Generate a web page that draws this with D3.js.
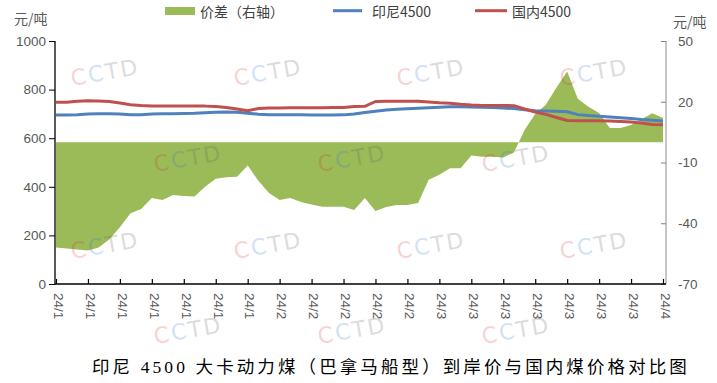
<!DOCTYPE html>
<html><head><meta charset="utf-8">
<script src="https://cdn.jsdelivr.net/npm/d3@7"></script>
<style>
html,body{margin:0;padding:0;background:#fff;}
svg{display:block;}
</style></head>
<body>
<svg id="chart" width="717" height="383"></svg>
<script>
// ---- data ----
const dates = [
 "2024-01-03","2024-01-04","2024-01-05","2024-01-08","2024-01-09","2024-01-10","2024-01-11","2024-01-12",
 "2024-01-15","2024-01-16","2024-01-17","2024-01-18","2024-01-19","2024-01-22","2024-01-23","2024-01-24",
 "2024-01-25","2024-01-26","2024-01-29","2024-01-30","2024-01-31",
 "2024-02-01","2024-02-02","2024-02-05","2024-02-06","2024-02-07","2024-02-08","2024-02-19","2024-02-20",
 "2024-02-21","2024-02-22","2024-02-23","2024-02-26","2024-02-27","2024-02-28","2024-02-29",
 "2024-03-01","2024-03-04","2024-03-05","2024-03-06","2024-03-07","2024-03-08","2024-03-11","2024-03-12",
 "2024-03-13","2024-03-14","2024-03-15","2024-03-18","2024-03-19","2024-03-20","2024-03-21","2024-03-22",
 "2024-03-25","2024-03-26","2024-03-27","2024-03-28","2024-03-29",
 "2024-04-01"
];
const tickLabels = ["24/1","24/1","24/1","24/1","24/1","24/1","24/1","24/2","24/2","24/2",
                    "24/2","24/2","24/3","24/3","24/3","24/3","24/3","24/3","24/3","24/4"];
const indonesia4500 = [695,695,697,700,701,701,700,697,697,700,701,701,702,703,705,707,708,707,703,699,
                       697,696,696,696,695,695,695,696,700,706,711,716,719,721,723,725,727,729,729,728,
                       727,726,724,722,717,713,712,711,709,697,693,690,687,684,681,677,674,671];
const domestic4500  = [748,748,752,754,753,751,745,738,735,733,733,733,733,733,732,730,726,720,713,722,
                       724,724,725,725,725,725,726,726,730,731,751,752,752,752,752,749,746,744,740,737,
                       735,735,735,734,720,708,698,685,673,672,672,672,671,669,667,662,656,655];
const spread        = [-52,-52.5,-53,-53.5,-52,-48,-42,-35,-33,-27.5,-28.5,-26,-26.5,-26.8,-22,-18,-17.3,-17,-11.5,-19,
                       -25,-28.5,-27.5,-29.5,-30.8,-31.8,-31.8,-31.8,-33.5,-27.5,-34,-32,-31,-31,-30,-18.5,-16,-12.9,-12.9,-6.5,
                       -7.1,-7.1,-7.5,-5,6,14,18.5,27,35,21.5,17.5,14.5,7,7,8.5,11.5,14.3,12];
const leftTicks = [0,200,400,600,800,1000];
const rightTicks = [-70,-40,-10,20,50];
const seriesNames = ["价差（右轴）","印尼4500","国内4500"];
const titleText = "印尼 4500 大卡动力煤（巴拿马船型）到岸价与国内煤价格对比图";

// ---- layout ----
const svg = d3.select("#chart");
const X0 = 56, X1 = 663, AXR = 666, YT = 41, YB = 284;
const green = "#9BBB59", blue = "#4F81BD", red = "#C0504D";
const numFont = "'Liberation Sans', Arial, sans-serif";
const cjkFont = "'Noto Sans CJK SC', sans-serif";

const x = d3.scaleLinear().domain([0, dates.length - 1]).range([X0, X1]);
const yL = d3.scaleLinear().domain([0, 1000]).range([YB, YT]);
const yR = d3.scaleLinear().domain([-70, 50]).range([YB, YT]);

// area
const area = d3.area().x((d, i) => x(i)).y0(yR(0)).y1(d => yR(d));
svg.append("path").datum(spread).attr("d", area).attr("fill", green);

// lines
const line = d3.line().x((d, i) => x(i)).y(d => yL(d));
svg.append("path").datum(indonesia4500).attr("d", line).attr("fill", "none")
  .attr("stroke", blue).attr("stroke-width", 3).attr("stroke-linejoin", "round");
svg.append("path").datum(domestic4500).attr("d", line).attr("fill", "none")
  .attr("stroke", red).attr("stroke-width", 3).attr("stroke-linejoin", "round");

// left axis
const gL = svg.append("g").attr("transform", `translate(${X0 - 1},0)`)
  .call(d3.axisLeft(yL).tickValues(leftTicks).tickSize(6).tickSizeOuter(0).tickPadding(3)
    .tickFormat(d => String(d)));
gL.select(".domain").remove();
gL.selectAll(".tick line").attr("stroke", "#000");
gL.selectAll("text").attr("font-family", numFont).attr("font-size", 13.5).attr("fill", "#595959");
svg.append("line").attr("x1", X0 - 1).attr("x2", X0 - 1).attr("y1", YT).attr("y2", YB + 0.5)
  .attr("stroke", "#000").attr("stroke-width", 1.3);

// right axis
const gR = svg.append("g").attr("transform", `translate(${AXR},0)`)
  .call(d3.axisRight(yR).tickValues(rightTicks).tickSize(-5).tickSizeOuter(0).tickPadding(12)
    .tickFormat(d => String(d)));
gR.select(".domain").remove();
gR.selectAll(".tick line").attr("stroke", "#7f7f7f");
gR.selectAll("text").attr("font-family", numFont).attr("font-size", 13.5).attr("fill", "#595959");
svg.append("line").attr("x1", AXR).attr("x2", AXR).attr("y1", YT).attr("y2", YB)
  .attr("stroke", "#8c8c8c").attr("stroke-width", 1);

// x axis
const tickIdx = d3.range(0, dates.length, 3);
const gX = svg.append("g").attr("transform", `translate(0,${YB})`)
  .call(d3.axisBottom(x).tickValues(tickIdx).tickSize(-5).tickSizeOuter(0)
    .tickFormat((d, i) => tickLabels[i]));
gX.select(".domain").remove();
gX.selectAll(".tick line").attr("stroke", "#000").attr("stroke-width", 1.2);
gX.selectAll("text")
  .attr("font-family", numFont).attr("font-size", 13.5).attr("fill", "#595959")
  .attr("transform", "rotate(90)").attr("text-anchor", "start")
  .attr("x", 9).attr("y", -2).attr("dy", "0.35em");
svg.append("line").attr("x1", X0 - 1).attr("x2", AXR).attr("y1", YB).attr("y2", YB)
  .attr("stroke", "#000").attr("stroke-width", 1.4);

// unit labels
svg.append("text").attr("x", 14).attr("y", 18).attr("dominant-baseline", "central")
  .attr("font-family", cjkFont).attr("font-size", 14).attr("fill", "#595959").text("元/吨");
svg.append("text").attr("x", 673).attr("y", 21).attr("dominant-baseline", "central")
  .attr("font-family", cjkFont).attr("font-size", 14).attr("fill", "#595959").text("元/吨");

// legend
const lg = svg.append("g").attr("font-family", cjkFont).attr("font-size", 14).attr("fill", "#404040");
lg.append("rect").attr("x", 165).attr("y", 7).attr("width", 30).attr("height", 8).attr("fill", green);
lg.append("text").attr("x", 200).attr("y", 11).attr("dominant-baseline", "central").text(seriesNames[0]);
lg.append("line").attr("x1", 333).attr("x2", 362).attr("y1", 10.7).attr("y2", 10.7)
  .attr("stroke", blue).attr("stroke-width", 3);
lg.append("text").attr("x", 372).attr("y", 11).attr("dominant-baseline", "central").text(seriesNames[1]);
lg.append("line").attr("x1", 475).attr("x2", 507).attr("y1", 10.7).attr("y2", 10.7)
  .attr("stroke", red).attr("stroke-width", 3);
lg.append("text").attr("x", 512).attr("y", 11).attr("dominant-baseline", "central").text(seriesNames[2]);

// watermark
const wm = svg.append("g").attr("pointer-events", "none");
const wmRows = [{y: 72, xs: [105, 268, 431, 594]}, {y: 158, xs: [188, 352, 516]},
                {y: 245, xs: [105, 268, 431, 594]}, {y: 330, xs: [188, 352, 516]}];
wmRows.forEach(r => r.xs.forEach(cx => {
  const t = wm.append("text").attr("transform", `translate(${cx},${r.y}) rotate(-10)`)
    .attr("text-anchor", "middle").attr("dominant-baseline", "central")
    .attr("font-family", "'DejaVu Sans', sans-serif").attr("font-size", 22)
    .attr("letter-spacing", 2).attr("opacity", 0.2);
  t.append("tspan").attr("fill", "#dd2222").text("C");
  t.append("tspan").attr("fill", "#2a6fd0").text("C");
  t.append("tspan").attr("fill", "#555").text("TD");
}));

// title
svg.append("text").attr("x", 92).attr("y", 367).attr("dominant-baseline", "central")
  .attr("font-family", "'Liberation Serif', 'Noto Sans CJK SC', serif").attr("font-size", 17.5)
  .attr("letter-spacing", 3.1).attr("fill", "#000").text(titleText);
</script>
</body></html>
